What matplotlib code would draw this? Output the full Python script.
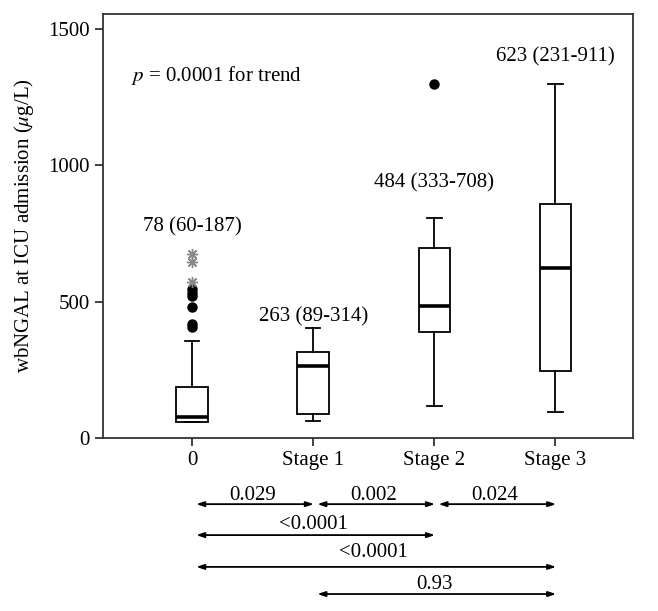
import numpy as np
import matplotlib.pyplot as plt

plt.rcParams['font.family'] = ['Liberation Serif', 'DejaVu Serif']
plt.rcParams['mathtext.fontset'] = 'stix'

groups = ["0", "Stage 1", "Stage 2", "Stage 3"]
q1 = [60, 89, 389, 246]
med = [78, 263, 484, 625]
q3 = [187, 314, 697, 860]
wlo = [60, 62, 118, 95]
whi = [356, 405, 806, 1298]
outliers = [[408, 418, 480, 522, 532, 545], [], [1300], []]
extremes = [[572, 645, 675], [], [], []]
labels = ["78 (60-187)", "263 (89-314)", "484 (333-708)", "623 (231-911)"]
label_y = [774, 444, 935, 1397]

# pairwise comparisons: (from, to, p-text)
comparisons = [
    (0, 1, "0.029"), (1, 2, "0.002"), (2, 3, "0.024"),
    (0, 2, "<0.0001"),
    (0, 3, "<0.0001"),
    (1, 3, "0.93"),
]
comp_row = [0, 0, 0, 1, 2, 3]

fig = plt.figure(figsize=(6.58, 6.11), dpi=100)
ax = fig.add_axes([103 / 658, 1 - 438 / 611, 530 / 658, 424 / 611])

pos = np.arange(len(groups))
stats = []
for i in range(len(groups)):
    stats.append(dict(med=med[i], q1=q1[i], q3=q3[i], whislo=wlo[i], whishi=whi[i],
                      fliers=outliers[i]))
ax.bxp(stats, positions=pos, widths=0.26, capwidths=0.12, patch_artist=True,
       boxprops=dict(facecolor='white', edgecolor='black', linewidth=1.3),
       whiskerprops=dict(color='black', linewidth=1.3),
       capprops=dict(color='black', linewidth=1.3),
       medianprops=dict(color='black', linewidth=2.6),
       flierprops=dict(marker='o', markerfacecolor='black', markeredgecolor='black',
                       markersize=6.5))
for i in range(len(groups)):
    if extremes[i]:
        ax.plot([pos[i]] * len(extremes[i]), extremes[i], linestyle='none',
                marker=(8, 2, 0), color='#888888', markersize=8, markeredgewidth=1.0)

for i in range(len(groups)):
    ax.text(pos[i], label_y[i], labels[i], ha='center', va='center', fontsize=15)
ax.text(-0.5, 1331, r"$p$ = 0.0001 for trend", ha='left', va='center', fontsize=15)

ax.set_xlim(-0.735, 3.64)
ax.set_ylim(0, 1555)
ax.set_xticks(pos)
ax.set_xticklabels(groups)
ax.set_yticks([0, 500, 1000, 1500])
ax.tick_params(labelsize=15, width=1.3, length=6, color='#333333')
ax.set_ylabel(r"wbNGAL at ICU admission ($\mu$g/L)", fontsize=15, labelpad=9)
for s in ax.spines.values():
    s.set_linewidth(1.3)
    s.set_color('#333333')

trans = ax.get_xaxis_transform()
row_arrow = [-0.156, -0.229, -0.304, -0.368]
row_text = [-0.135, -0.204, -0.269, -0.345]
for (a, b, txt), r in zip(comparisons, comp_row):
    ax.annotate("", xy=(pos[a] + 0.035, row_arrow[r]), xytext=(pos[b] + 0.005, row_arrow[r]),
                xycoords=trans, textcoords=trans, annotation_clip=False,
                arrowprops=dict(arrowstyle='<|-|>,head_length=0.45,head_width=0.15',
                                color='black', linewidth=1.3, shrinkA=0, shrinkB=0))
    ax.text((pos[a] + pos[b]) / 2, row_text[r], txt, transform=trans,
            ha='center', va='center', fontsize=15, clip_on=False)

fig.savefig("out.png", dpi=100)
